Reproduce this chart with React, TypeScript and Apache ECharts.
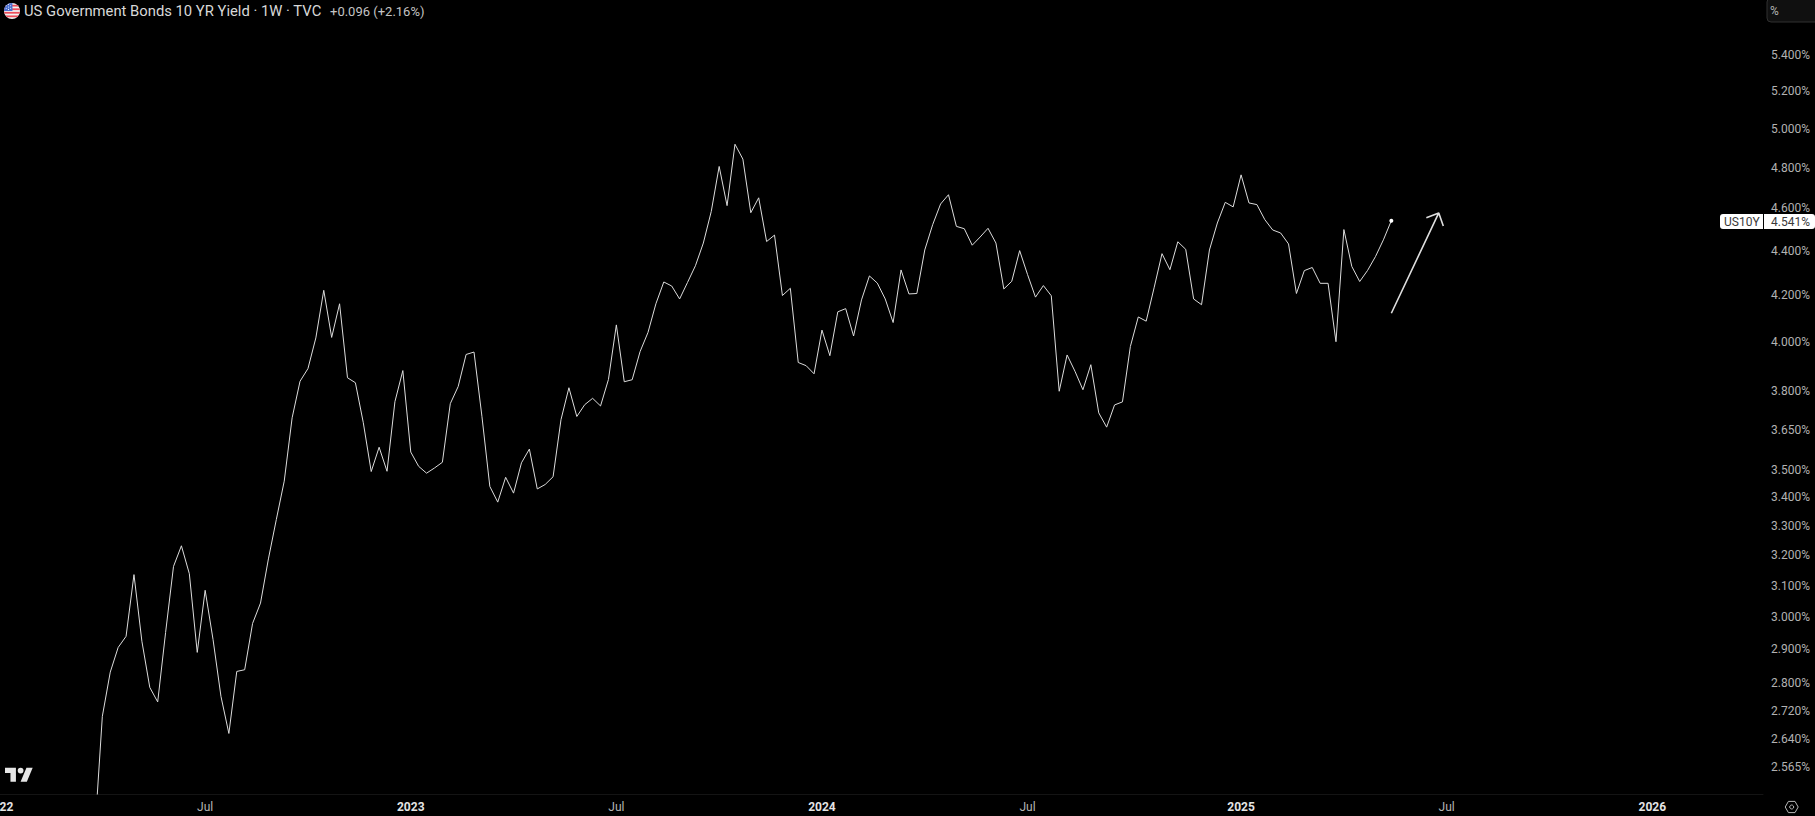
import React, { useEffect, useRef } from "react";
import * as echarts from "echarts";

const titleText = "US Government Bonds 10 YR Yield · 1W · TVC";
const changeText = "+0.096 (+2.16%)";
const symbolName = "US10Y";
const lastLabel = "4.541%";
const unitLabel = "%";

const axisStart = "2021-11-29";
const axisEnd = "2026-04-13";
const firstWeek = "2022-03-28";
const yields = [
  2.38, 2.704, 2.832, 2.906, 2.94, 3.136, 2.925, 2.787, 2.745, 2.952,
  3.163, 3.232, 3.139, 2.891, 3.085, 2.93, 2.761, 2.656, 2.834, 2.839,
  2.98, 3.044, 3.188, 3.322, 3.458, 3.695, 3.839, 3.89, 4.017, 4.222,
  4.019, 4.163, 3.853, 3.833, 3.676, 3.493, 3.583, 3.494, 3.758, 3.882,
  3.565, 3.512, 3.487, 3.506, 3.527, 3.75, 3.818, 3.948, 3.958, 3.701,
  3.439, 3.383, 3.472, 3.415, 3.525, 3.576, 3.43, 3.446, 3.474, 3.688,
  3.813, 3.7, 3.746, 3.771, 3.741, 3.846, 4.072, 3.837, 3.845, 3.96,
  4.04, 4.163, 4.259, 4.241, 4.184, 4.257, 4.332, 4.436, 4.585, 4.806,
  4.613, 4.919, 4.843, 4.579, 4.651, 4.443, 4.473, 4.199, 4.231, 3.915,
  3.902, 3.869, 4.05, 3.943, 4.128, 4.142, 4.025, 4.18, 4.286, 4.254,
  4.184, 4.082, 4.313, 4.206, 4.208, 4.404, 4.522, 4.621, 4.666, 4.514,
  4.503, 4.426, 4.464, 4.505, 4.436, 4.228, 4.262, 4.401, 4.292, 4.192,
  4.243, 4.198, 3.799, 3.946, 3.879, 3.805, 3.906, 3.714, 3.659, 3.745,
  3.757, 3.981, 4.106, 4.088, 4.233, 4.387, 4.314, 4.442, 4.407, 4.184,
  4.159, 4.404, 4.53, 4.629, 4.607, 4.764, 4.626, 4.618, 4.546, 4.497,
  4.483, 4.432, 4.208, 4.31, 4.324, 4.253, 4.253, 4.001, 4.499, 4.329,
  4.261, 4.311, 4.374, 4.451, 4.541,
];

const priceTicks = [
  5.4, 5.2, 5.0, 4.8, 4.6, 4.4, 4.2, 4.0, 3.8, 3.65, 3.5, 3.4, 3.3, 3.2,
  3.1, 3.0, 2.9, 2.8, 2.72, 2.64, 2.565,
];

const timeTickDates = [
  "2022-01-03", "2022-07-04", "2023-01-02", "2023-07-03", "2024-01-01",
  "2024-07-01", "2025-01-06", "2025-07-07", "2026-01-05",
];
const timeTickLabels = ["2022", "Jul", "2023", "Jul", "2024", "Jul", "2025", "Jul", "2026"];

const arrowDates = ["2025-05-19", "2025-06-30", "2025-06-19", "2025-06-30", "2025-07-04"];
const arrowValues = [4.122, 4.578, 4.555, 4.578, 4.516];

const flagSvg =
  "data:image/svg+xml;utf8," +
  encodeURIComponent(
    `<svg xmlns="http://www.w3.org/2000/svg" width="36" height="36" viewBox="0 0 18 18"><clipPath id="c"><circle cx="9" cy="9" r="9"/></clipPath><g clip-path="url(#c)"><rect width="18" height="18" fill="#f2f2f2"/><rect y="2" width="18" height="2" fill="#ee4d5a"/><rect y="6" width="18" height="2" fill="#ee4d5a"/><rect y="10" width="18" height="2" fill="#ee4d5a"/><rect y="14" width="18" height="2" fill="#ee4d5a"/><rect width="9.5" height="9" fill="#4a6fd0"/><g fill="#fff"><circle cx="2.5" cy="3" r=".6"/><circle cx="5" cy="1.8" r=".6"/><circle cx="7.5" cy="3" r=".6"/><circle cx="5" cy="4.4" r=".6"/><circle cx="2.5" cy="6" r=".6"/><circle cx="7.5" cy="6" r=".6"/><circle cx="5" cy="7.2" r=".6"/></g></g></svg>`
  );

echarts.graphic.registerShape(
  "tvLogo",
  echarts.graphic.extendPath(
    "M14 25H7V14H0V7h14v18ZM28 25h-8l7.5-18h8L28 25ZM20 14.5a3.7 3.7 0 1 0 0-7.4a3.7 3.7 0 0 0 0 7.4Z",
    {}
  )
);

const font = "Roboto, Inter, sans-serif";
const DAY = 86400000;

function weeksFromStart(date: string) {
  return (Date.parse(date) - Date.parse(axisStart)) / (7 * DAY);
}

export default function App() {
  const ref = useRef<HTMLDivElement>(null);
  useEffect(() => {
    document.documentElement.style.margin = "0";
    document.body.style.margin = "0";
    document.body.style.background = "#000";
    const chart = echarts.init(ref.current!, undefined, { renderer: "svg" });
    const firstIdx = weeksFromStart(firstWeek);
    const lineData = yields.map((v, i) => [firstIdx + i, v]);
    const tickWeeks = timeTickDates.map(weeksFromStart);
    const tagY = 221.5;
    chart.setOption({
      animation: false,
      backgroundColor: "#000000",
      grid: { left: -40, right: 52, top: 0, bottom: 22, containLabel: false, outerBoundsMode: "none" },
      tooltip: { show: false },
      xAxis: {
        type: "value",
        min: 0,
        max: weeksFromStart(axisEnd),
        axisLine: { show: true, onZero: false, lineStyle: { color: "#141414", width: 1 } },
        axisTick: { show: false },
        splitLine: { show: false },
        axisLabel: {
          customValues: tickWeeks,
          margin: 7,
          hideOverlap: false,
          fontFamily: font,
          fontSize: 12,
          color: "#b4b4b4",
          formatter: (v: number) => {
            const i = tickWeeks.findIndex((w) => Math.abs(w - v) < 0.01);
            const t = timeTickLabels[i] ?? "";
            return t === "Jul" ? `{m|${t}}` : `{y|${t}}`;
          },
          rich: {
            m: { fontFamily: font, fontSize: 12, color: "#b4b4b4" },
            y: { fontFamily: font, fontSize: 12, fontWeight: "bold", color: "#e4e4e4" },
          },
        },
      },
      yAxis: {
        type: "log",
        logBase: 10,
        position: "right",
        min: 2.493,
        max: 5.72,
        axisLine: { show: true, lineStyle: { color: "#141414", width: 1 } },
        axisTick: { show: false },
        splitLine: { show: false },
        minorTick: { show: false },
        axisLabel: {
          customValues: priceTicks,
          margin: 8,
          fontFamily: font,
          fontSize: 12,
          color: "#b2b2b2",
          formatter: (v: number) => v.toFixed(3) + "%",
        },
      },
      series: [
        {
          type: "line",
          data: lineData,
          showSymbol: false,
          symbol: "none",
          lineStyle: { color: "#dcdcdc", width: 1 },
          markPoint: {
            silent: true,
            symbol: "circle",
            symbolSize: 4,
            itemStyle: { color: "#ffffff" },
            label: { show: false },
            data: [{ coord: lineData[lineData.length - 1] }],
          },
        },
        {
          type: "line",
          data: arrowDates.map((d, i) => [weeksFromStart(d), arrowValues[i]]),
          showSymbol: false,
          symbol: "none",
          lineStyle: { color: "#dedede", width: 1.6 },
        },
      ],
      graphic: [
        { type: "image", x: 4, y: 3, z: 10, style: { image: flagSvg, width: 16, height: 16 } },
        {
          type: "text", x: 24, y: 11, z: 10,
          style: { text: titleText, fontFamily: font, fontSize: 14.8, fill: "#d8d8d8", textVerticalAlign: "middle" },
        },
        {
          type: "text", x: 330, y: 11, z: 10,
          style: { text: changeText, fontFamily: font, fontSize: 13, fill: "#c4c4c4", textVerticalAlign: "middle" },
        },
        { type: "tvLogo", x: 5, y: 762.2, scaleX: 0.78, scaleY: 0.78, z: 10, style: { fill: "#e6e6e6" } },
        {
          type: "rect", x: 1767, y: -2, z: 10,
          shape: { width: 60, height: 24, r: 4 },
          style: { fill: "#101010", stroke: "#303030", lineWidth: 1 },
        },
        {
          type: "text", x: 1770, y: 11, z: 11,
          style: { text: unitLabel, fontFamily: font, fontSize: 12, fill: "#b2b2b2", textVerticalAlign: "middle" },
        },
        {
          type: "rect", x: 1720, y: tagY - 7.5, z: 10,
          shape: { width: 43, height: 15, r: [3, 0, 0, 3] },
          style: { fill: "#ffffff" },
        },
        {
          type: "rect", x: 1764, y: tagY - 7.5, z: 10,
          shape: { width: 51, height: 15, r: [0, 3, 3, 0] },
          style: { fill: "#ffffff" },
        },
        {
          type: "text", x: 1724, y: tagY, z: 11,
          style: { text: symbolName, fontFamily: font, fontSize: 12, fill: "#3a3a3a", textVerticalAlign: "middle" },
        },
        {
          type: "text", x: 1771, y: tagY, z: 11,
          style: { text: lastLabel, fontFamily: font, fontSize: 12, fill: "#3a3a3a", textVerticalAlign: "middle" },
        },
        {
          type: "polygon", z: 10,
          shape: { points: [[1785.2, 807], [1788.4, 801.4], [1795, 801.4], [1798.2, 807], [1795, 812.6], [1788.4, 812.6]] },
          style: { fill: "none", stroke: "#b8b8b8", lineWidth: 1 },
        },
        {
          type: "circle", z: 10,
          shape: { cx: 1791.7, cy: 807, r: 2 },
          style: { fill: "none", stroke: "#b8b8b8", lineWidth: 1 },
        },
      ],
    });
    return () => chart.dispose();
  }, []);
  return <div ref={ref} style={{ position: "absolute", left: 0, top: 0, width: 1815, height: 816, overflow: "hidden", background: "#000" }} />;
}
